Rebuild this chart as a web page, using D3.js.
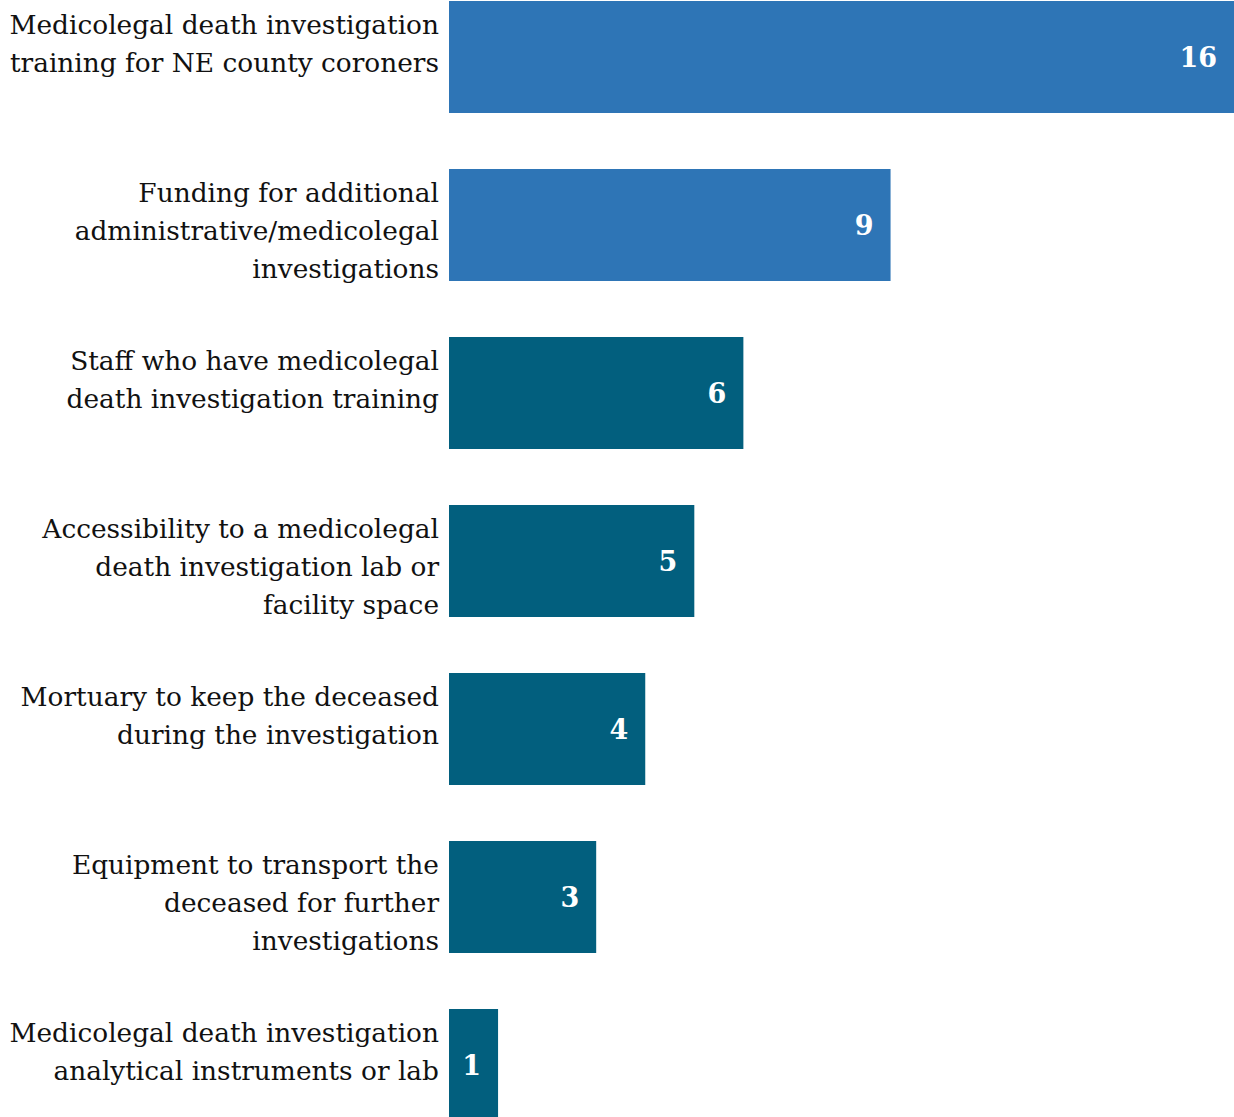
<!DOCTYPE html>
<html>
<head>
<meta charset="utf-8">
<script src="https://cdn.jsdelivr.net/npm/d3@7"></script>
<style>
  html, body { margin: 0; padding: 0; background: #fff; }
  svg { display: block; }
</style>
</head>
<body>
<svg id="chart" width="1234" height="1117"></svg>
<script>
// Needs reported by coroners (count of responses)
const categories = [
  ["Medicolegal death investigation", "training for NE county coroners"],
  ["Funding for additional", "administrative/medicolegal", "investigations"],
  ["Staff who have medicolegal", "death investigation training"],
  ["Accessibility to a medicolegal", "death investigation lab or", "facility space"],
  ["Mortuary to keep the deceased", "during the investigation"],
  ["Equipment to transport the", "deceased for further", "investigations"],
  ["Medicolegal death investigation", "analytical instruments or lab"]
];
const values = [16, 9, 6, 5, 4, 3, 1];
const groups = ["top", "top", "other", "other", "other", "other", "other"];

const width = 1234, height = 1117;
const left = 449;
const svg = d3.select("#chart");

const keys = categories.map(c => c.join(" "));

const x = d3.scaleLinear().domain([0, 16]).range([left, width]);
const y = d3.scaleBand().domain(keys).range([1, 1121]).paddingInner(1 / 3).paddingOuter(0);
const color = d3.scaleOrdinal().domain(["top", "other"]).range(["#2e75b6", "#025f7e"]);

const rows = keys.map((k, i) => ({ key: k, lines: categories[i], value: values[i], group: groups[i] }));

// Bars
svg.append("g").selectAll("rect").data(rows).join("rect")
  .attr("x", x(0))
  .attr("y", d => y(d.key))
  .attr("width", d => x(d.value) - x(0))
  .attr("height", y.bandwidth())
  .attr("fill", d => color(d.group));

// Value labels inside the bar end
svg.append("g").selectAll("text").data(rows).join("text")
  .attr("x", d => x(d.value) - 17)
  .attr("y", d => y(d.key) + y.bandwidth() / 2)
  .attr("dy", "0.36em")
  .attr("text-anchor", "end")
  .attr("fill", "#fff")
  .attr("font-family", "'DejaVu Serif', serif")
  .attr("font-weight", "bold")
  .attr("font-size", 27)
  .text(d => d.value);

// Category labels, right-aligned against the bars
const lineH = 38;
const lbl = svg.append("g").selectAll("text").data(rows).join("text")
  .attr("text-anchor", "end")
  .attr("font-family", "'DejaVu Serif', serif")
  .attr("font-size", 26.4)
  .attr("fill", "#111");
lbl.selectAll("tspan").data(d => d.lines.map((t, j) => ({ t, j, d }))).join("tspan")
  .attr("x", left - 10)
  .attr("y", o => y(o.d.key) + 24 + o.j * lineH)
  .attr("dy", "0.34em")
  .text(o => o.t);
</script>
</body>
</html>
